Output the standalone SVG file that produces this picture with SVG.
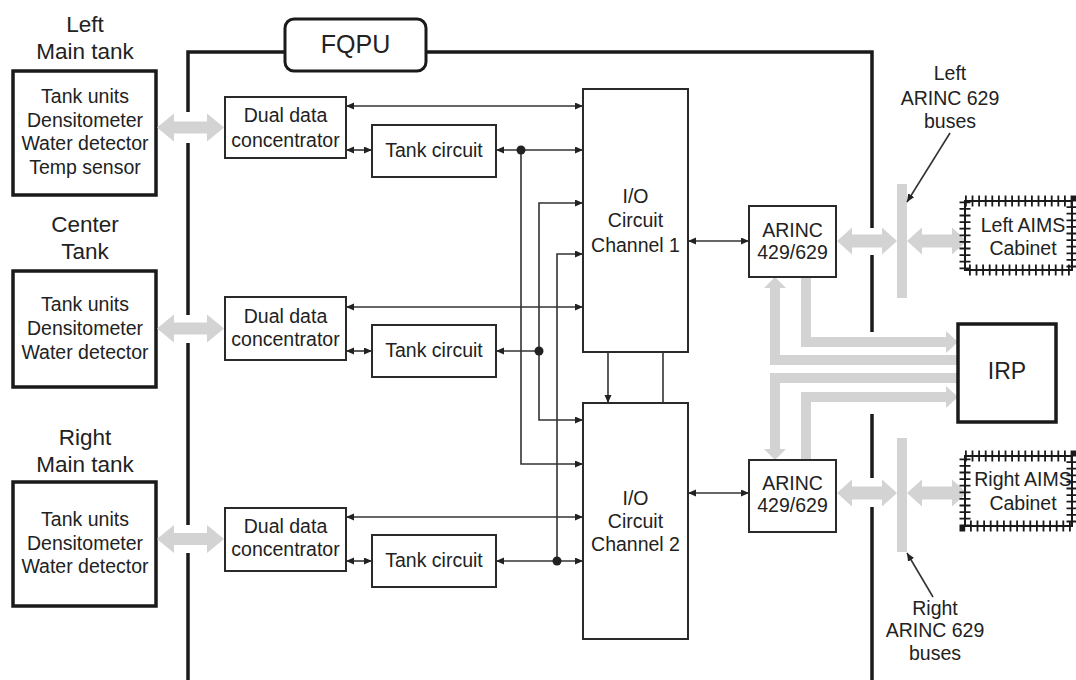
<svg xmlns="http://www.w3.org/2000/svg" width="1076" height="680" viewBox="0 0 1076 680">
<style>
text{font-family:"Liberation Sans",Arial,sans-serif;font-size:19.5px;fill:#222;text-anchor:middle}
.ttl{font-size:22.5px}
.thick{fill:#fff;stroke:#1a1a1a;stroke-width:3.5}
.box{fill:#fff;stroke:#2a2a2a;stroke-width:2}
.frame{fill:none;stroke:#1a1a1a;stroke-width:3.5}
.ln{fill:none;stroke:#333;stroke-width:1.6}
.arr{marker-start:url(#ah);marker-end:url(#ah)}
.end{marker-end:url(#ah)}
.start{marker-start:url(#ah)}
.g{fill:#d3d3d3}
.gl{fill:none;stroke:#d3d3d3;stroke-width:10;stroke-linejoin:miter}
.cab{fill:#fff;stroke:#1a1a1a;stroke-width:2}
.tick{fill:none;stroke:#1a1a1a;stroke-width:11;stroke-dasharray:1.8 4.8}
</style>
<defs>
<marker id="ah" markerUnits="userSpaceOnUse" markerWidth="9" markerHeight="8" refX="8" refY="3.5" orient="auto-start-reverse"><path d="M0,0 L8,3.5 L0,7 z" fill="#222"/></marker>
<path id="gL" d="M0,0 L17,-14 L17,-6 L50,-6 L50,-14 L67,0 L50,14 L50,6 L17,6 L17,14 z"/>
<path id="gA" d="M0,0 L15,-13.5 L15,-6.5 L45,-6.5 L45,-13.5 L60,0 L45,13.5 L45,6.5 L15,6.5 L15,13.5 z"/>
</defs>

<g id="fqpu-frame">
<path class="frame" d="M188,680 V553 M188,525 V343 M188,315 V143 M188,112 V52 H285 M426,52 H872 V228 M872,255 V332 M872,414 V478 M872,507 V680"/>
<rect x="285" y="19" width="141" height="52" rx="9" fill="#fff" stroke="#1a1a1a" stroke-width="3"/>
<text x="355.5" y="53" style="font-size:25px">FQPU</text>
</g>

<g id="left-main-tank">
<text class="ttl" x="85" y="32">Left</text>
<text class="ttl" x="85" y="59">Main tank</text>
<rect class="thick" x="13" y="71" width="143" height="124"/>
<text x="85" y="103">Tank units</text>
<text x="85" y="126.5">Densitometer</text>
<text x="85" y="150">Water detector</text>
<text x="85" y="173.5">Temp sensor</text>
</g>
<g id="center-tank">
<text class="ttl" x="85" y="232">Center</text>
<text class="ttl" x="85" y="259">Tank</text>
<rect class="thick" x="13" y="271" width="143" height="116"/>
<text x="85" y="311">Tank units</text>
<text x="85" y="335">Densitometer</text>
<text x="85" y="359">Water detector</text>
</g>
<g id="right-main-tank">
<text class="ttl" x="85" y="445">Right</text>
<text class="ttl" x="85" y="472">Main tank</text>
<rect class="thick" x="13" y="482" width="143" height="124"/>
<text x="85" y="526">Tank units</text>
<text x="85" y="549.5">Densitometer</text>
<text x="85" y="573">Water detector</text>
</g>

<g id="ddc-1"><rect class="box" x="225" y="97" width="121" height="61"/><text x="285.5" y="122">Dual data</text><text x="285.5" y="147">concentrator</text></g>
<g id="ddc-2"><rect class="box" x="225" y="297" width="121" height="63"/><text x="285.5" y="323">Dual data</text><text x="285.5" y="346">concentrator</text></g>
<g id="ddc-3"><rect class="box" x="225" y="508" width="121" height="63"/><text x="285.5" y="533">Dual data</text><text x="285.5" y="556">concentrator</text></g>

<g id="tank-circuit-1"><rect class="box" x="372" y="125" width="124" height="52"/><text x="434" y="157">Tank circuit</text></g>
<g id="tank-circuit-2"><rect class="box" x="372" y="325" width="124" height="52"/><text x="434" y="357">Tank circuit</text></g>
<g id="tank-circuit-3"><rect class="box" x="372" y="535" width="124" height="52"/><text x="434" y="567">Tank circuit</text></g>

<g id="io-ch1"><rect class="box" x="583" y="89" width="105" height="263"/><text x="635.5" y="203">I/O</text><text x="635.5" y="227">Circuit</text><text x="635.5" y="252">Channel 1</text></g>
<g id="io-ch2"><rect class="box" x="583" y="403" width="105" height="236"/><text x="635.5" y="505">I/O</text><text x="635.5" y="528">Circuit</text><text x="635.5" y="551">Channel 2</text></g>

<g id="gray-buses">
<use href="#gL" x="157" y="127.5" class="g"/>
<use href="#gL" x="157" y="328.5" class="g"/>
<use href="#gL" x="157" y="539" class="g"/>
<use href="#gA" x="837" y="241" class="g"/>
<use href="#gA" x="907" y="241" class="g"/>
<use href="#gA" x="837" y="493" class="g"/>
<use href="#gA" x="907" y="493" class="g"/>
<rect class="g" x="897" y="184" width="10" height="114"/>
<rect class="g" x="897" y="438" width="10" height="114"/>
<polyline class="gl" points="806,277 806,342 947,342"/>
<polygon class="g" points="946,331 958,342 946,353"/>
<polyline class="gl" points="958,360 775,360 775,287"/>
<polygon class="g" points="764,288 775,277 786,288"/>
<polyline class="gl" points="958,378 775,378 775,449"/>
<polygon class="g" points="764,449 775,460 786,449"/>
<polyline class="gl" points="806,460 806,397 947,397"/>
<polygon class="g" points="946,386 958,397 946,408"/>
</g>

<g id="arinc-1"><rect class="box" x="749" y="206" width="87" height="71"/><text x="792.5" y="237">ARINC</text><text x="792.5" y="259">429/629</text></g>
<g id="arinc-2"><rect class="box" x="749" y="460" width="87" height="72"/><text x="792.5" y="490">ARINC</text><text x="792.5" y="512">429/629</text></g>

<g id="irp"><rect class="thick" x="958" y="324" width="98" height="98"/><text x="1007" y="379" style="font-size:23px">IRP</text></g>

<g id="left-aims">
<rect class="cab" x="965" y="201" width="107" height="69"/>
<rect class="tick" x="965" y="201" width="107" height="69"/>
<text x="1023" y="232">Left AIMS</text><text x="1023" y="255">Cabinet</text>
</g>
<g id="right-aims">
<rect class="cab" x="965" y="456" width="107" height="70"/>
<rect class="tick" x="965" y="456" width="107" height="70"/>
<text x="1023" y="486">Right AIMS</text><text x="1023" y="510">Cabinet</text>
</g>

<g id="bus-labels">
<text x="950" y="80">Left</text><text x="950" y="105">ARINC 629</text><text x="950" y="128">buses</text>
<text x="935" y="615">Right</text><text x="935" y="637">ARINC 629</text><text x="935" y="660">buses</text>
</g>

<g id="connectors">
<line class="ln arr" x1="346" y1="106" x2="583" y2="106"/>
<line class="ln arr" x1="346" y1="150" x2="372" y2="150"/>
<line class="ln arr" x1="496" y1="150" x2="583" y2="150"/>
<polyline class="ln end" points="521,150 521,464 583,464"/>
<polyline class="ln arr" points="583,203 539,203 539,420 583,420"/>
<polyline class="ln start" points="583,254 557,254 557,561"/>
<line class="ln arr" x1="346" y1="307" x2="583" y2="307"/>
<line class="ln arr" x1="346" y1="351" x2="372" y2="351"/>
<line class="ln start" x1="496" y1="351" x2="539" y2="351"/>
<line class="ln arr" x1="346" y1="517" x2="583" y2="517"/>
<line class="ln arr" x1="346" y1="561" x2="372" y2="561"/>
<line class="ln arr" x1="496" y1="561" x2="583" y2="561"/>
<circle cx="521" cy="150" r="4.5" fill="#222"/>
<circle cx="539" cy="351" r="4.5" fill="#222"/>
<circle cx="557" cy="561" r="4.5" fill="#222"/>
<line class="ln end" x1="608" y1="352" x2="608" y2="403"/>
<line class="ln" x1="663" y1="352" x2="663" y2="403"/>
<line class="ln arr" x1="688" y1="241" x2="749" y2="241"/>
<line class="ln arr" x1="688" y1="493" x2="749" y2="493"/>
<line class="ln end" x1="950" y1="133" x2="907" y2="202"/>
<line class="ln end" x1="933" y1="597" x2="907" y2="553"/>
</g>
</svg>
